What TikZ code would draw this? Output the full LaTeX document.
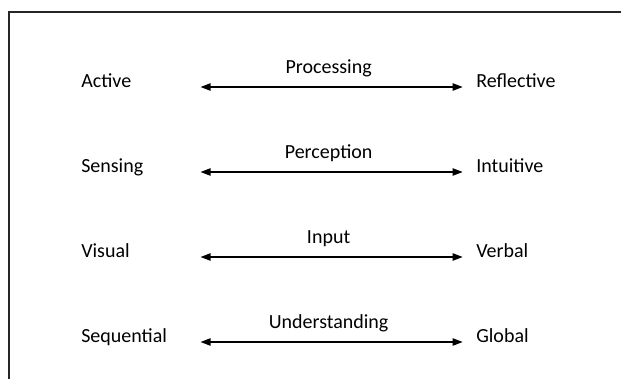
\documentclass[tikz,border=0pt]{standalone}
\usepackage{fontspec}
\setmainfont{Carlito}
\usetikzlibrary{arrows.meta}

\tikzset{
	pole/.style={anchor=base west, inner sep=0pt},
	leftpole/.style={pole, text width=89.25pt},
	polearrow/.style={line width=0.9pt, {Triangle[length=7.5pt,width=5.5pt]}-{Triangle[length=7.5pt,width=5.5pt]}, shorten >=10pt},
	dimlabel/.style={pos=0.465, anchor=base, yshift=10.5pt, inner sep=0pt}
}

\begin{document}
\begin{tikzpicture}[x=0.75pt, y=-0.75pt, font=\fontsize{15pt}{18pt}\selectfont]

% canvas %{{{2

	\useasboundingbox (0,0) rectangle (621,379);

% frame %{{{2

	\draw[line width=1pt, black!85] (9,379) -- (9,12) -- (621,12);

% left poles %{{{2

	\node[leftpole] (act) at (81,87) {Active};
	\node[leftpole] (sen) at (81,172) {Sensing};
	\node[leftpole] (vis) at (81,257) {Visual};
	\node[leftpole] (seq) at (81,342) {Sequential};

% right poles %{{{2

	\node[pole] (ref) at (476,87) {Reflective};
	\node[pole] (int) at (476,172) {Intuitive};
	\node[pole] (ver) at (476,257) {Verbal};
	\node[pole] (glo) at (476,342) {Global};

% dimensions %{{{2

	\draw[polearrow] (act.base east) -- (ref.base west)
		node[dimlabel] {Processing};
	\draw[polearrow] (sen.base east) -- (int.base west)
		node[dimlabel] {Perception};
	\draw[polearrow] (vis.base east) -- (ver.base west)
		node[dimlabel] {Input};
	\draw[polearrow] (seq.base east) -- (glo.base west)
		node[dimlabel] {Understanding};

\end{tikzpicture}
\end{document}
